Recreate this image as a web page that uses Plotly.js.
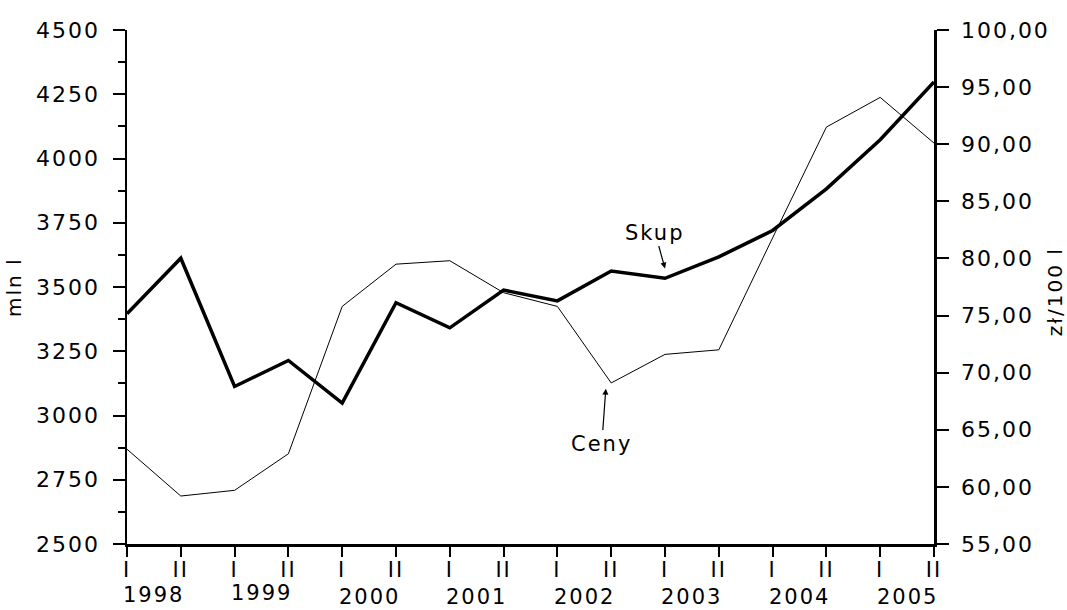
<!DOCTYPE html>
<html>
<head>
<meta charset="utf-8">
<script src="https://cdn.plot.ly/plotly-3.0.1.min.js"></script>
<style>
html,body{margin:0;padding:0;background:#fff;}
#chart{width:1067px;height:610px;}
#chart svg text{letter-spacing:2px;}
</style>
</head>
<body>
<div id="chart"></div>
<script>
// Half-year periods (I / II) 1998–2005
var periods = ["I","II","I","II","I","II","I","II","I","II","I","II","I","II","I","II"];
var years = ["1998","1999","2000","2001","2002","2003","2004","2005"];
// Skup (mln l) – left axis
var skup = [3396, 3612, 3113, 3214, 3048, 3439, 3341, 3488, 3446, 3562, 3534, 3617, 3720, 3882, 4073, 4298];
// Ceny (zł/100 l) – right axis
var ceny = [63.3, 59.2, 59.7, 62.9, 75.8, 79.5, 79.8, 77.0, 75.8, 69.1, 71.6, 72.0, 81.8, 91.5, 94.1, 90.1];

var xIdx = periods.map(function(_, i){ return i; });

var traces = [
  {x: xIdx, y: skup, type: 'scatter', mode: 'lines', name: 'Skup',
   line: {color: '#000', width: 3.5}, yaxis: 'y'},
  {x: xIdx, y: ceny, type: 'scatter', mode: 'lines', name: 'Ceny',
   line: {color: '#000', width: 1}, yaxis: 'y2'}
];

var yearShift = [-51, -49, -53, -53, -53, -53, -53, -53];
var annotations = years.map(function(y, i){
  return {text: y, x: 2*i + 0.5, xref: 'x', y: 0, yref: 'paper',
          yshift: yearShift[i], yanchor: 'middle', xanchor: 'center',
          showarrow: false, font: {size: 21, color: '#000'}};
});
annotations.push({text: 'mln l', x: 0, xref: 'paper', xshift: -113, y: 0.5, yref: 'paper',
  textangle: -90, showarrow: false, font: {size: 20, color: '#000'}, xanchor: 'center', yanchor: 'middle'});
annotations.push({text: 'zł/100 l', x: 1, xref: 'paper', xshift: 121, y: 0.49, yref: 'paper',
  textangle: -90, showarrow: false, font: {size: 20, color: '#000'}, xanchor: 'center', yanchor: 'middle'});
annotations.push({text: 'Skup', x: 10, y: 3572, xref: 'x', yref: 'y', ax: -10, ay: -36,
  showarrow: true, arrowhead: 2, arrowsize: 1, arrowwidth: 1.2, arrowcolor: '#000',
  font: {size: 21, color: '#000'}});
annotations.push({text: 'Ceny', x: 8.9, y: 68.6, xref: 'x', yref: 'y2', ax: -4, ay: 55,
  showarrow: true, arrowhead: 2, arrowsize: 1, arrowwidth: 1.2, arrowcolor: '#000',
  font: {size: 21, color: '#000'}});

var layout = {
  width: 1067, height: 610,
  margin: {l: 127, r: 133, t: 30, b: 66},
  paper_bgcolor: '#fff', plot_bgcolor: '#fff',
  showlegend: false,
  separators: ', ',
  font: {family: '"DejaVu Sans", "Liberation Sans", Arial, sans-serif', size: 22, color: '#000'},
  xaxis: {
    range: [0, 15], tickvals: xIdx, ticktext: periods,
    showgrid: false, zeroline: false, showline: true, linecolor: '#000', linewidth: 2.5,
    ticks: 'outside', ticklen: 10, tickwidth: 2, tickcolor: '#000',
    tickfont: {size: 21}, ticklabelstandoff: -5, fixedrange: true
  },
  yaxis: {
    range: [2500, 4500], dtick: 250, tick0: 2500,
    showgrid: false, zeroline: false, showline: true, linecolor: '#000', linewidth: 2.5,
    ticks: 'outside', ticklen: 12, tickwidth: 2, tickcolor: '#000',
    minor: {dtick: 125, ticklen: 7, tickwidth: 2, tickcolor: '#000', ticks: 'outside', showgrid: false},
    tickfont: {size: 22}, ticklabelstandoff: 8
  },
  yaxis2: {
    range: [55, 100], dtick: 5, tick0: 55, overlaying: 'y', side: 'right',
    tickformat: '.2f',
    showgrid: false, zeroline: false, showline: true, linecolor: '#000', linewidth: 2.5,
    ticks: 'outside', ticklen: 12, tickwidth: 2, tickcolor: '#000',
    tickfont: {size: 22}, ticklabelstandoff: 8
  },
  annotations: annotations
};

Plotly.newPlot('chart', traces, layout, {staticPlot: true, displayModeBar: false});
</script>
</body>
</html>
